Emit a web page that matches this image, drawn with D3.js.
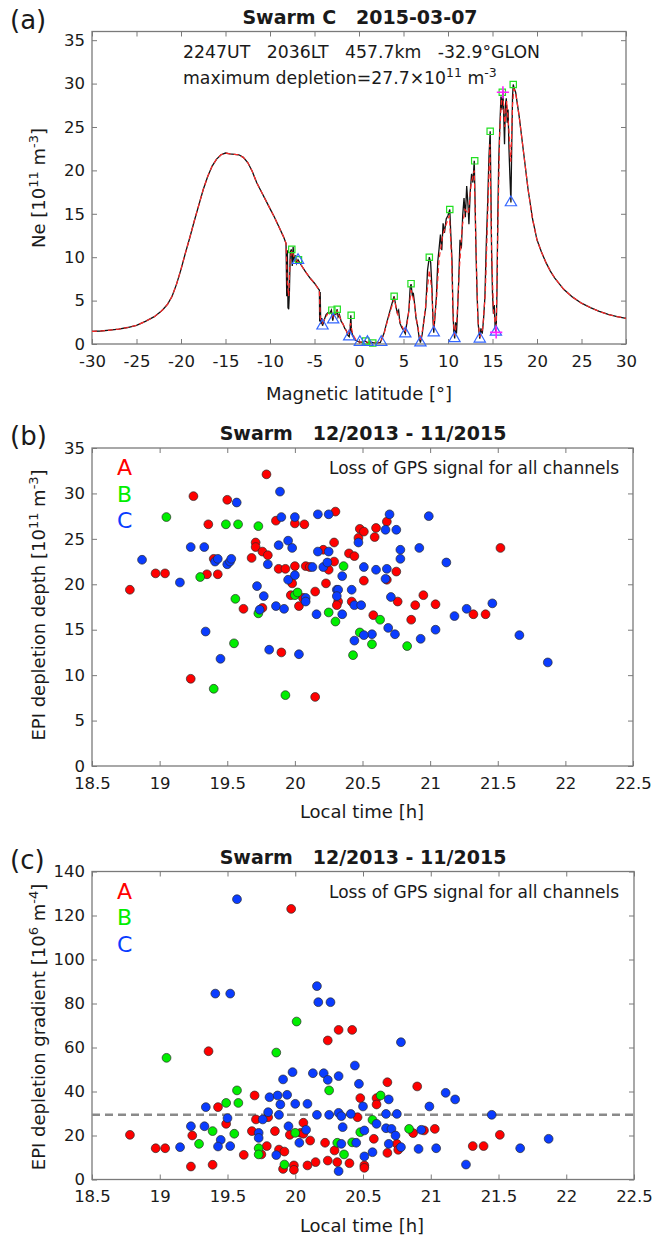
<!DOCTYPE html>
<html>
<head>
<meta charset="utf-8">
<script src="https://cdn.jsdelivr.net/npm/d3@7"></script>
<style>
body { margin: 0; background: #fff; }
svg text { font-family: "DejaVu Sans", sans-serif; fill: #1a1a1a; }
</style>
</head>
<body>
<svg id="fig" width="653" height="1240"></svg>
<script>
// ---- panel (a): Swarm C pass, Ne along magnetic latitude [lat, Ne 1e11 m^-3]
const neTrace = [
[-30,1.45],[-29,1.5],[-28,1.6],[-27,1.72],[-26,1.9],[-25,2.15],[-24,2.6],[-23,3.15],[-22.3,3.7],[-22,4.0],[-21.5,4.6],[-21,5.5],[-20.5,6.9],[-20,8.6],[-19.5,10.5],[-19,12.3],[-18.5,14.2],[-18,16.0],[-17.5,17.8],[-17,19.3],[-16.5,20.5],[-16,21.3],[-15.5,21.8],[-15,22.0],[-14.5,21.9],[-14,21.85],[-13.5,21.8],[-13,21.5],[-12.5,20.9],[-12,19.9],[-11.5,18.6],[-11,17.6],[-10.5,16.6],[-10,15.6],[-9.5,14.6],[-9,13.5],[-8.5,12.4],[-8.2,11.6],[-8.12,5.5],[-8.05,10.8],[-7.98,4.2],[-7.9,4.0],[-7.82,6.0],[-7.72,10.6],[-7.6,10.9],[-7.5,9.0],[-7.4,11.2],[-7.3,9.5],[-7.15,10.2],[-7.0,9.3],[-6.85,9.7],[-6.5,9.1],[-6.0,8.3],[-5.5,7.6],[-5.0,7.0],[-4.6,6.4],[-4.45,6.2],[-4.42,2.6],[-4.36,6.0],[-4.3,2.3],[-4.2,3.0],[-4.1,2.1],[-3.9,2.8],[-3.7,3.4],[-3.5,3.6],[-3.3,3.5],[-3.1,3.9],[-2.95,2.7],[-2.8,3.5],[-2.6,3.4],[-2.45,4.0],[-2.35,3.1],[-2.2,3.4],[-2.0,2.6],[-1.8,2.3],[-1.6,1.8],[-1.4,1.5],[-1.25,1.0],[-1.1,0.85],[-1.0,1.6],[-0.92,3.3],[-0.85,1.5],[-0.7,1.0],[-0.5,0.5],[-0.25,0.35],[0,0.25],[0.3,0.2],[0.7,0.35],[0.95,0.15],[1.3,0.2],[1.6,0.15],[2.0,0.12],[2.4,0.18],[2.8,1.2],[3.1,2.4],[3.5,3.9],[3.8,5.0],[3.95,5.5],[4.15,4.3],[4.3,3.6],[4.45,3.9],[4.6,2.4],[4.8,1.9],[5.0,1.6],[5.2,1.2],[5.4,2.6],[5.6,3.8],[5.75,6.5],[5.85,6.9],[6.0,5.5],[6.1,5.9],[6.25,4.6],[6.4,3.0],[6.6,2.0],[6.75,0.8],[6.9,0.15],[7.1,1.1],[7.3,2.8],[7.5,4.2],[7.7,8.5],[7.9,10.0],[8.05,9.4],[8.2,6.4],[8.3,3.0],[8.4,1.3],[8.55,3.4],[8.7,5.5],[8.85,9.5],[9.0,11.0],[9.15,12.6],[9.3,10.8],[9.45,13.9],[9.6,12.8],[9.8,14.4],[10.0,14.8],[10.2,15.5],[10.3,13.0],[10.45,9.7],[10.55,4.0],[10.65,1.5],[10.75,0.65],[10.85,2.5],[10.95,1.2],[11.05,3.2],[11.2,7.2],[11.35,12.0],[11.5,11.0],[11.65,14.8],[11.8,16.8],[11.95,14.6],[12.1,18.2],[12.25,16.0],[12.35,13.8],[12.5,17.6],[12.65,19.6],[12.8,18.6],[12.95,21.1],[13.05,16.0],[13.15,10.5],[13.27,5.6],[13.4,2.2],[13.57,0.6],[13.7,1.8],[13.85,1.2],[14.0,2.9],[14.15,5.5],[14.3,11.5],[14.45,16.0],[14.6,21.5],[14.74,24.5],[14.82,18.0],[14.9,10.5],[15.0,5.8],[15.1,3.5],[15.2,4.5],[15.3,1.8],[15.41,1.3],[15.5,6.0],[15.6,15.0],[15.7,21.2],[15.85,25.8],[15.95,28.5],[16.05,27.0],[16.17,29.2],[16.27,26.0],[16.35,23.0],[16.45,27.5],[16.55,28.3],[16.65,25.5],[16.75,27.0],[16.85,22.5],[16.95,19.5],[17.07,16.3],[17.15,22.0],[17.25,28.5],[17.33,29.9],[17.45,29.4],[17.6,29.0],[17.8,27.6],[18.0,26.2],[18.5,22.0],[19.0,17.8],[19.5,14.4],[20,12.0],[20.5,10.6],[21,9.4],[21.5,8.4],[22,7.6],[23,6.3],[24,5.4],[25,4.7],[26,4.2],[27,3.75],[28,3.4],[29,3.15],[30,2.95]
];
// smoothed background (red dashed)
const neBackground = [
[-30,1.45],[-29,1.5],[-28,1.6],[-27,1.72],[-26,1.9],[-25,2.15],[-24,2.6],[-23,3.15],[-22.3,3.7],[-22,4.0],[-21.5,4.6],[-21,5.5],[-20.5,6.9],[-20,8.6],[-19.5,10.5],[-19,12.3],[-18.5,14.2],[-18,16.0],[-17.5,17.8],[-17,19.3],[-16.5,20.5],[-16,21.3],[-15.5,21.8],[-15,22.0],[-14.5,21.9],[-14,21.85],[-13.5,21.8],[-13,21.5],[-12.5,20.9],[-12,19.9],[-11.5,18.6],[-11,17.6],[-10.5,16.6],[-10,15.6],[-9.5,14.6],[-9,13.5],[-8.5,12.4],[-8.2,11.6],[-8.05,7.0],[-7.9,5.5],[-7.75,9.5],[-7.55,10.8],[-7.3,10.0],[-7.0,9.6],[-6.5,9.1],[-6,8.3],[-5.5,7.6],[-5,7.0],[-4.6,6.4],[-4.45,6.1],[-4.35,3.0],[-4.1,2.4],[-3.8,3.0],[-3.5,3.5],[-3.1,3.7],[-2.9,3.1],[-2.45,3.8],[-2.0,2.7],[-1.6,1.9],[-1.2,1.0],[-0.95,2.4],[-0.7,1.1],[-0.3,0.4],[0,0.25],[1,0.2],[2.4,0.2],[2.8,1.1],[3.1,2.3],[3.5,3.7],[3.95,5.2],[4.3,3.6],[4.6,2.6],[5.0,1.7],[5.2,1.3],[5.5,3.0],[5.85,6.2],[6.2,4.8],[6.5,2.6],[6.9,0.3],[7.3,2.6],[7.6,5.5],[7.9,8.5],[8.15,6.5],[8.4,1.8],[8.7,5.0],[9.0,9.8],[9.4,12.5],[9.8,13.8],[10.15,14.8],[10.4,10.0],[10.6,2.5],[10.75,1.0],[11.0,2.8],[11.3,9.0],[11.6,13.5],[11.9,15.5],[12.3,15.0],[12.6,18.5],[12.95,20.0],[13.15,11.0],[13.35,3.0],[13.57,0.8],[13.9,1.8],[14.2,6.0],[14.45,14.5],[14.7,23.0],[14.9,11.0],[15.1,4.0],[15.41,1.5],[15.6,13.0],[15.8,24.0],[16.0,28.0],[16.2,28.2],[16.4,25.0],[16.6,28.0],[16.85,24.5],[17.05,21.0],[17.25,27.5],[17.4,29.4],[17.6,29.0],[17.8,27.6],[18.0,26.2],[18.5,22.0],[19.0,17.8],[19.5,14.4],[20,12.0],[20.5,10.6],[21,9.4],[21.5,8.4],[22,7.6],[23,6.3],[24,5.4],[25,4.7],[26,4.2],[27,3.75],[28,3.4],[29,3.15],[30,2.95]
];
const nePeaks = [[-7.55,10.9],[-6.8,9.7],[-3.05,3.9],[-2.45,4.0],[-0.88,3.3],[0.75,0.35],[1.55,0.12],[3.95,5.5],[5.85,6.95],[7.9,10.0],[10.2,15.5],[13.0,21.1],[14.74,24.5],[16.1,29.0],[17.33,29.9]];
const neTroughs = [[-6.85,9.65],[-4.1,2.1],[-2.9,2.8],[-1.1,0.85],[0.1,0.2],[0.95,0.2],[2.5,0.2],[5.2,1.2],[6.9,0.15],[8.4,1.3],[10.73,0.65],[13.57,0.6],[15.38,1.4],[17.07,16.3]];
const neMaxDepl = [[16.17,29.0],[15.41,1.34]];

// ---- panel (b): depletion depth vs local time [LT h, depth 1e11 m^-3]
const depthA = [[18.78,19.4],[18.97,21.2],[19.04,21.2],[19.25,29.7],[19.36,26.6],[19.40,22.8],[19.35,21.1],[19.43,21.1],[19.50,29.3],[19.23,9.6],[19.62,17.3],[19.68,22.9],[19.71,24.6],[19.71,24.1],[19.76,23.6],[19.80,23.2],[19.79,32.1],[19.86,27.0],[19.88,21.7],[19.93,21.7],[19.76,17.4],[19.90,12.5],[19.98,20.1],[20.00,22.0],[20.00,26.7],[19.97,18.8],[20.03,17.6],[20.07,26.6],[20.06,18.5],[20.08,22.0],[20.11,21.9],[20.15,19.2],[20.15,7.6],[20.21,23.8],[20.25,21.6],[20.23,20.1],[20.29,24.6],[20.29,22.5],[20.30,28.0],[20.32,18.1],[20.31,17.7],[20.40,23.4],[20.44,23.1],[20.48,26.1],[20.47,25.1],[20.42,18.1],[20.51,25.8],[20.60,26.2],[20.59,25.2],[20.68,26.9],[20.68,20.5],[20.75,21.4],[20.51,20.4],[20.76,18.1],[20.95,18.8],[20.89,17.7],[21.04,17.8],[20.58,16.6],[20.86,16.1],[21.32,16.7],[21.41,16.7],[21.52,24.0]];
const depthB = [[19.05,27.4],[19.30,20.8],[19.49,26.6],[19.58,26.6],[19.73,26.4],[19.56,18.4],[19.55,13.5],[19.40,8.5],[19.73,16.8],[19.93,7.8],[20.00,18.8],[20.02,19.1],[20.25,16.9],[20.36,22.0],[20.30,15.9],[20.43,12.2],[20.48,14.7],[20.63,16.1],[20.57,13.4],[20.83,13.2]];
const depthC = [[18.87,22.7],[19.15,20.2],[19.23,24.1],[19.33,24.1],[19.34,14.8],[19.41,22.5],[19.43,22.8],[19.45,11.8],[19.50,22.2],[19.52,22.5],[19.53,22.8],[19.57,29.0],[19.72,19.8],[19.77,18.7],[19.74,17.2],[19.80,22.2],[19.81,12.8],[19.86,17.6],[19.88,24.3],[19.89,30.2],[19.90,27.4],[19.95,24.8],[19.98,24.0],[19.95,20.5],[20.00,21.0],[20.00,27.4],[19.92,17.3],[20.03,12.3],[20.08,18.5],[20.08,18.1],[20.13,21.9],[20.17,23.6],[20.17,27.7],[20.25,27.7],[20.21,21.9],[20.24,22.4],[20.25,23.6],[20.16,16.7],[20.31,19.4],[20.32,19.4],[20.31,18.7],[20.35,20.9],[20.35,16.7],[20.42,19.4],[20.44,17.7],[20.44,13.8],[20.47,24.6],[20.70,27.7],[20.67,26.0],[20.75,26.0],[20.78,23.8],[20.78,22.8],[20.92,24.0],[20.99,27.5],[21.12,22.4],[20.51,21.9],[20.60,21.6],[20.68,21.7],[20.67,20.6],[20.49,17.7],[20.71,18.6],[20.69,15.2],[20.74,14.5],[20.57,14.5],[20.51,14.4],[20.93,14.0],[21.04,15.0],[21.18,16.5],[21.27,17.3],[21.46,17.9],[21.66,14.4],[21.87,11.4]];

// ---- panel (c): depletion gradient vs local time [LT h, gradient 1e6 m^-4]
const gradA = [[19.97,123.0],[20.32,68.0],[20.42,68.0],[20.24,63.2],[19.36,58.3],[18.78,20.3],[18.97,14.2],[19.04,14.2],[19.23,5.9],[19.24,20.0],[19.43,32.9],[19.39,6.7],[19.49,25.3],[19.62,11.2],[19.70,38.2],[19.68,22.0],[19.71,27.3],[19.75,11.4],[19.80,28.3],[19.79,15.2],[19.85,22.0],[19.88,13.6],[19.92,12.7],[19.96,20.3],[19.91,4.8],[19.99,6.4],[19.99,4.4],[20.04,21.2],[20.06,25.8],[20.06,20.8],[20.11,17.7],[20.09,6.4],[20.15,7.9],[20.22,16.7],[20.24,8.6],[20.29,13.2],[20.31,7.9],[20.40,7.4],[20.68,44.2],[20.90,42.3],[20.60,37.0],[20.60,34.1],[20.48,37.0],[20.46,28.3],[20.87,21.1],[20.95,22.3],[21.03,23.0],[21.51,20.3],[20.58,18.5],[20.75,16.2],[20.76,13.5],[21.31,15.2],[21.39,15.2],[20.68,12.1],[20.51,6.4],[20.51,5.3]];
const gradB = [[20.01,71.8],[19.05,55.3],[19.86,57.7],[19.29,16.2],[19.39,22.0],[19.49,34.8],[19.57,40.5],[19.58,34.8],[19.55,20.8],[19.73,14.2],[19.73,11.4],[19.92,6.8],[20.00,21.2],[20.25,40.5],[20.31,16.7],[20.36,11.4],[20.48,21.5],[20.63,38.2],[20.57,27.1],[20.84,23.0],[20.42,16.9]];
const gradC = [[19.57,127.4],[19.41,84.5],[19.52,84.5],[20.16,87.9],[20.17,80.6],[20.26,80.6],[20.44,51.8],[19.98,48.8],[19.91,45.5],[20.13,48.3],[20.21,48.3],[20.24,45.3],[20.32,47.0],[20.78,62.4],[19.15,14.7],[19.23,24.2],[19.33,24.2],[19.34,32.9],[19.45,18.0],[19.43,15.0],[19.50,27.9],[19.52,15.2],[19.73,21.2],[19.73,18.9],[19.76,27.3],[19.80,30.6],[19.81,37.4],[19.86,11.1],[19.87,38.2],[19.89,34.1],[19.88,29.4],[19.94,38.5],[19.95,24.2],[20.00,34.4],[20.08,22.6],[20.09,34.4],[20.03,16.7],[20.16,29.4],[20.25,29.4],[20.32,3.8],[20.32,30.3],[20.34,28.8],[20.35,23.8],[20.34,16.2],[20.41,29.8],[20.45,16.7],[20.47,43.5],[21.11,39.4],[21.18,36.4],[20.99,33.2],[20.50,33.2],[20.69,36.4],[20.67,29.8],[20.75,29.8],[21.45,29.4],[20.60,25.3],[20.67,23.3],[20.71,23.0],[20.74,20.0],[20.51,22.3],[20.93,22.6],[21.87,18.5],[20.69,16.2],[20.78,14.7],[20.91,13.9],[21.04,14.2],[21.66,14.2],[20.57,12.4],[20.51,10.5],[21.26,6.8]];
const gradThreshold = 29.4;

const latTicks = d3.range(-30, 31, 5);
const neTicks = d3.range(0, 36, 5);
const ltTicks = d3.range(18.5, 22.51, 0.5);
const depthTicks = d3.range(0, 36, 5);
const gradTicks = d3.range(0, 141, 20);
const satNames = ["A", "B", "C"];
const satColors = ["#ff0000", "#00ee00", "#0a3cff"];

const svg = d3.select("#fig");
const boxColor = "#7a7a7a";

function frame(x, y, xt, yt) {
  const [x0, x1] = x.range();
  const [y0, y1] = y.range();
  const g = svg.append("g");
  const fmt = d => String(+d.toFixed(1));
  g.append("g").attr("transform", `translate(0,${y0})`)
    .call(d3.axisBottom(x).tickValues(xt).tickSizeInner(-5).tickSizeOuter(0).tickPadding(11).tickFormat(fmt));
  g.append("g").attr("transform", `translate(0,${y1})`)
    .call(d3.axisTop(x).tickValues(xt).tickSizeInner(-5).tickSizeOuter(0).tickFormat(""));
  g.append("g").attr("transform", `translate(${x0},0)`)
    .call(d3.axisLeft(y).tickValues(yt).tickSizeInner(-5).tickSizeOuter(0).tickPadding(7).tickFormat(fmt));
  g.append("g").attr("transform", `translate(${x1},0)`)
    .call(d3.axisRight(y).tickValues(yt).tickSizeInner(-5).tickSizeOuter(0).tickFormat(""));
  g.selectAll(".domain").remove();
  g.selectAll(".tick line").attr("stroke", boxColor);
  g.selectAll(".tick text").attr("font-size", 16.5).attr("fill", "#1a1a1a")
    .attr("font-family", "DejaVu Sans, sans-serif");
  g.append("rect").attr("x", x0).attr("y", y1).attr("width", x1 - x0).attr("height", y0 - y1)
    .attr("fill", "none").attr("stroke", boxColor).attr("stroke-width", 1.3);
  return g;
}

function txt(x, y, s, size, opts = {}) {
  const t = svg.append("text").attr("x", x).attr("y", y).attr("font-size", size)
    .attr("text-anchor", opts.anchor || "start").style("white-space", "pre").text(s);
  if (opts.bold) t.attr("font-weight", "bold");
  if (opts.fill) t.style("fill", opts.fill);
  if (opts.rotate) t.attr("transform", `rotate(-90,${x},${y})`);
  return t;
}

// superscript helper: parts = [[text, isSup], ...]
function rich(t, parts, size) {
  let up = false;
  const lift = Math.round(size * 0.4);
  parts.forEach(([s, sup]) => {
    const ts = t.append("tspan").text(s);
    if (sup && !up) { ts.attr("dy", -lift).attr("font-size", size * 0.72); up = true; }
    else if (!sup && up) { ts.attr("dy", lift); up = false; }
    else if (sup) ts.attr("font-size", size * 0.72);
  });
}

// ================= panel (a)
const xa = d3.scaleLinear().domain([-30, 30]).range([92, 626]);
const ya = d3.scaleLinear().domain([0, 36]).range([344, 31.5]);
frame(xa, ya, latTicks, neTicks);

const lineA = d3.line().x(d => xa(d[0])).y(d => ya(d[1]));
svg.append("path").datum(neTrace).attr("d", lineA)
  .attr("fill", "none").attr("stroke", "#111").attr("stroke-width", 1.3);
svg.append("path").datum(neBackground).attr("d", lineA)
  .attr("fill", "none").attr("stroke", "#ff2a2a").attr("stroke-width", 1.2).attr("stroke-dasharray", "5,3");

svg.append("g").selectAll("path").data(nePeaks).join("path")
  .attr("transform", d => `translate(${xa(d[0])},${ya(d[1])})`)
  .attr("d", d3.symbol(d3.symbolSquare, 40))
  .attr("fill", "none").attr("stroke", "#22e022").attr("stroke-width", 1.2);
svg.append("g").selectAll("path").data(neTroughs).join("path")
  .attr("transform", d => `translate(${xa(d[0])},${ya(d[1])})`)
  .attr("d", d3.symbol(d3.symbolTriangle, 55))
  .attr("fill", "none").attr("stroke", "#3366ff").attr("stroke-width", 1.2);
const plusSym = { draw(ctx, size) { const r = Math.sqrt(size) / 2; ctx.moveTo(-r, 0); ctx.lineTo(r, 0); ctx.moveTo(0, -r); ctx.lineTo(0, r); } };
svg.append("g").selectAll("path").data(neMaxDepl).join("path")
  .attr("transform", d => `translate(${xa(d[0])},${ya(d[1])})`)
  .attr("d", d3.symbol(plusSym, 150))
  .attr("fill", "none").attr("stroke", "#ff22ff").attr("stroke-width", 1.6);

txt(10, 29, "(a)", 26);
txt(360, 24, "Swarm C   2015-03-07", 19, { anchor: "middle", bold: true });
txt(183, 58, "2247UT   2036LT   457.7km   -32.9°GLON", 17.3);
rich(txt(183, 84, "", 17.3), [["maximum depletion=27.7×10", false], ["11", true], [" m", false], ["-3", true]], 17.3);
rich(txt(45, 188, "", 18, { anchor: "middle", rotate: true }), [["Ne [10", false], ["11", true], [" m", false], ["-3", true], ["]", false]], 18);
txt(359, 400, "Magnetic latitude [°]", 18, { anchor: "middle" });

// ================= scatter panels
function scatterPanel(y0, y1, x1, domainY, ticksY, series, label, ylabelParts, yLabelY, extra) {
  const x = d3.scaleLinear().domain([18.5, 22.5]).range([92, x1]);
  const y = d3.scaleLinear().domain(domainY).range([y0, y1]);
  frame(x, y, ltTicks, ticksY);
  if (extra) extra(x, y);
  series.forEach((pts, i) => {
    svg.append("g").selectAll("circle").data(pts).join("circle")
      .attr("cx", d => x(d[0])).attr("cy", d => y(d[1])).attr("r", 4.4)
      .attr("fill", satColors[i]).attr("stroke", "#2a2a2a").attr("stroke-width", 0.7);
  });
  satNames.forEach((n, i) => txt(117, y1 + 27 + i * 26.5, n, 22, { fill: satColors[i] }));
  txt(619, y1 + 26, "Loss of GPS signal for all channels", 17, { anchor: "end" });
  txt(10, y1 - 3, label, 26);
  txt(363, y1 - 8, "Swarm   12/2013 - 11/2015", 19, { anchor: "middle", bold: true });
  rich(txt(45, yLabelY, "", 18, { anchor: "middle", rotate: true }), ylabelParts, 18);
  txt(362, y0 + 52, "Local time [h]", 18, { anchor: "middle" });
}

scatterPanel(766, 448, 633, [0, 35], depthTicks, [depthA, depthB, depthC], "(b)",
  [["EPI depletion depth [10", false], ["11", true], [" m", false], ["-3", true], ["]", false]], 605);

scatterPanel(1179.5, 871.5, 634, [0, 140], gradTicks, [gradA, gradB, gradC], "(c)",
  [["EPI depletion gradient [10", false], ["6", true], [" m", false], ["-4", true], ["]", false]], 1027,
  (x, y) => {
    svg.append("line").attr("x1", x(18.5)).attr("x2", x(22.5))
      .attr("y1", y(gradThreshold)).attr("y2", y(gradThreshold))
      .attr("stroke", "#8a8a8a").attr("stroke-width", 2.4).attr("stroke-dasharray", "8,5");
  });
</script>
</body>
</html>
